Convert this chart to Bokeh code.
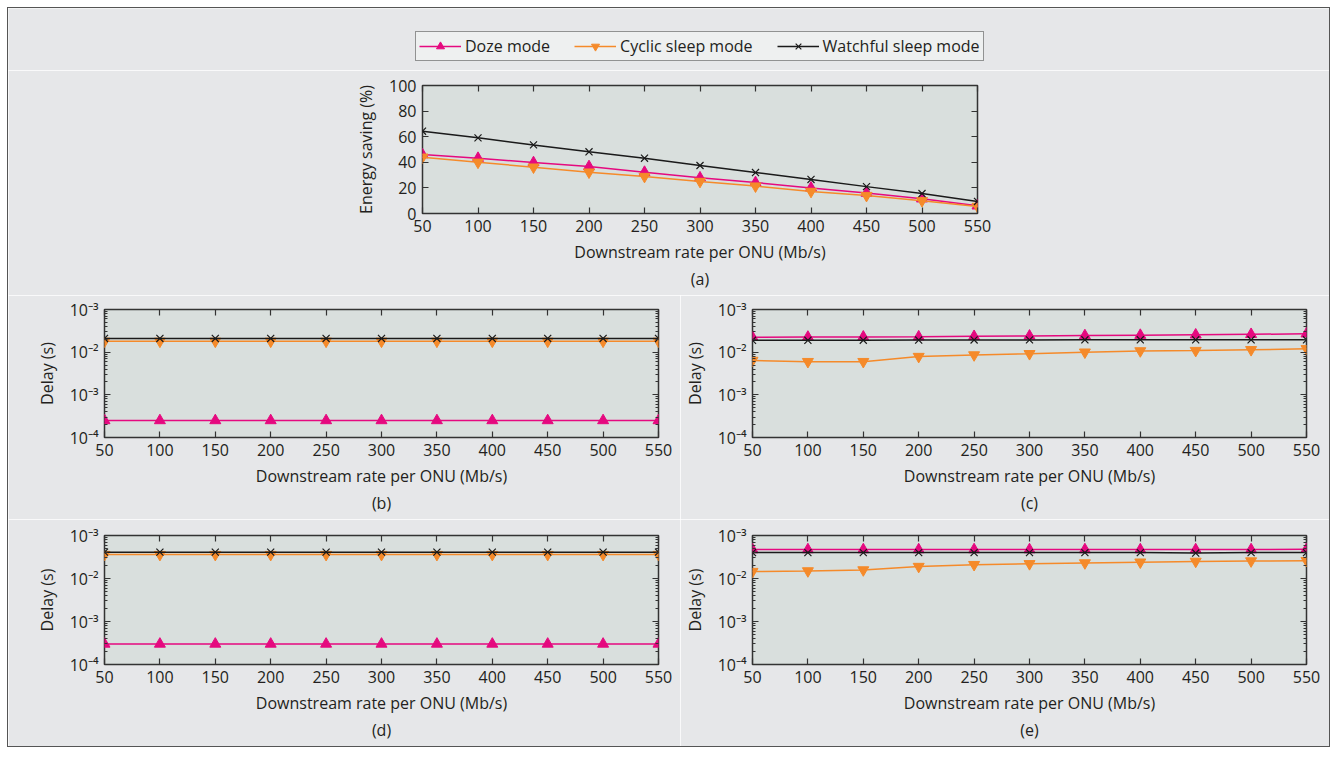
from bokeh.plotting import figure
from bokeh.models import (Range1d, LinearAxis, FixedTicker, Legend,
                          LegendItem, Title, CustomJSTickFormatter)
from bokeh.layouts import column, row
from bokeh.embed import file_html
from bokeh.resources import INLINE

# ---------------- data ----------------
rates = [50, 100, 150, 200, 250, 300, 350, 400, 450, 500, 550]
series_names = ["Doze mode", "Cyclic sleep mode", "Watchful sleep mode"]

energy_doze = [46.0, 43.2, 39.8, 36.7, 32.3, 27.9, 24.2, 20.0, 16.0, 11.5, 6.0]
energy_cyclic = [44.0, 40.0, 36.2, 32.3, 28.9, 25.0, 21.4, 17.2, 14.0, 10.0, 5.5]
energy_watchful = [64.3, 59.1, 53.6, 48.2, 43.2, 37.5, 32.0, 26.6, 21.0, 15.6, 9.4]

delay_b_doze = [2.5e-4, 2.5e-4, 2.5e-4, 2.5e-4, 2.5e-4, 2.5e-4, 2.5e-4, 2.5e-4, 2.5e-4, 2.5e-4, 2.5e-4]
delay_b_cyclic = [0.018, 0.018, 0.018, 0.018, 0.018, 0.018, 0.018, 0.018, 0.018, 0.018, 0.018]
delay_b_watchful = [0.021, 0.021, 0.021, 0.021, 0.021, 0.021, 0.021, 0.021, 0.021, 0.021, 0.021]

delay_c_doze = [0.0224, 0.0226, 0.0228, 0.023, 0.0235, 0.0240, 0.0245, 0.0250, 0.0255, 0.0262, 0.027]
delay_c_cyclic = [0.0064, 0.0060, 0.0060, 0.0079, 0.0086, 0.0092, 0.0100, 0.0107, 0.0109, 0.0114, 0.0120]
delay_c_watchful = [0.0190, 0.0190, 0.0191, 0.0192, 0.0193, 0.0194, 0.0195, 0.0195, 0.0195, 0.0195, 0.0195]

delay_d_doze = [3.0e-4, 3.0e-4, 3.0e-4, 3.0e-4, 3.0e-4, 3.0e-4, 3.0e-4, 3.0e-4, 3.0e-4, 3.0e-4, 3.0e-4]
delay_d_cyclic = [0.036, 0.036, 0.036, 0.036, 0.036, 0.036, 0.036, 0.036, 0.036, 0.036, 0.036]
delay_d_watchful = [0.041, 0.041, 0.041, 0.041, 0.041, 0.041, 0.041, 0.041, 0.041, 0.041, 0.041]

delay_e_doze = [0.047, 0.047, 0.047, 0.047, 0.047, 0.047, 0.047, 0.047, 0.047, 0.047, 0.048]
delay_e_cyclic = [0.0145, 0.0150, 0.0158, 0.0190, 0.0210, 0.0220, 0.0230, 0.0240, 0.0250, 0.0255, 0.0260]
delay_e_watchful = [0.040, 0.040, 0.040, 0.040, 0.040, 0.040, 0.040, 0.040, 0.039, 0.040, 0.040]

energy_ticks = [0, 20, 40, 60, 80, 100]
delay_tick_values = [1e-4, 1e-3, 1e-2, 1e-1]
delay_tick_labels = ["10⁻⁴", "10⁻³", "10⁻²", "10⁻³"]
captions = ["(a)", "(b)", "(c)", "(d)", "(e)"]
x_label = "Downstream rate per ONU (Mb/s)"
energy_label = "Energy saving (%)"
delay_label = "Delay (s)"

# ---------------- style ----------------
FONT = "Open Sans"
TXT = "#231f20"
FS = "16px"
BG = "#e6e7e9"
PLOT_BG = "#d9dfdd"
EDGE = "#333333"
COLORS = ["#e5097f", "#f58a2a", "#1a1a1a"]
MARKERS = ["triangle", "inverted_triangle", "x"]

minor_log = [m * 10.0 ** k for k in (-4, -3, -2) for m in range(2, 10)]
blank = CustomJSTickFormatter(code="return ''")


def style_axis(ax, labels=True, minor=False, standoff=6):
    ax.axis_line_color = None
    ax.major_tick_in = 6
    ax.major_tick_out = 0
    ax.major_tick_line_color = EDGE
    ax.major_tick_line_width = 1.2
    if minor:
        ax.minor_tick_in = 3
        ax.minor_tick_out = 0
        ax.minor_tick_line_color = EDGE
    else:
        ax.minor_tick_line_color = None
    ax.major_label_text_font = FONT
    ax.major_label_text_font_size = FS
    ax.major_label_text_color = TXT
    ax.major_label_standoff = standoff
    if not labels:
        ax.formatter = blank
        ax.major_label_standoff = 0
    ax.axis_label_text_font = FONT
    ax.axis_label_text_font_size = FS
    ax.axis_label_text_font_style = "normal"
    ax.axis_label_text_color = TXT


def make_fig(width, height, bl, br, bt, bb, log, ylabel, caption):
    kw = dict(width=width, height=height, output_backend="svg", toolbar_location=None,
              x_range=Range1d(rates[0], rates[-1]),
              min_border_left=bl, min_border_right=br, min_border_top=bt, min_border_bottom=bb,
              background_fill_color=PLOT_BG, border_fill_color=BG,
              outline_line_color=EDGE, outline_line_width=1.5)
    if log:
        p = figure(y_axis_type="log",
                   y_range=Range1d(delay_tick_values[0], delay_tick_values[-1]), **kw)
        yt = FixedTicker(ticks=delay_tick_values, minor_ticks=minor_log)
    else:
        p = figure(y_range=Range1d(energy_ticks[0], energy_ticks[-1]), **kw)
        yt = FixedTicker(ticks=energy_ticks)
    xt = FixedTicker(ticks=rates)
    p.grid.visible = False

    p.xaxis.ticker = xt
    p.yaxis.ticker = yt
    for ax in p.xaxis:
        style_axis(ax, standoff=6)
        ax.axis_label = x_label
        ax.axis_label_standoff = 6
        ax.axis_label_text_line_height = 1.0
    for ax in p.yaxis:
        style_axis(ax, minor=log, standoff=6)
        ax.axis_label = ylabel
        ax.axis_label_standoff = 9
        if log:
            ax.major_label_overrides = dict(zip(delay_tick_values, delay_tick_labels))

    top = LinearAxis(ticker=xt)
    style_axis(top, labels=False)
    p.add_layout(top, "above")
    right = LinearAxis(ticker=yt)
    style_axis(right, labels=False, minor=log)
    p.add_layout(right, "right")

    p.add_layout(Title(text=caption, align="center", text_font=FONT, text_font_size=FS,
                       text_font_style="normal", text_color=TXT, standoff=0), "below")
    return p


def add_series(p, values):
    out = []
    for vals, c, m in zip(values, COLORS, MARKERS):
        lr = p.line(rates, vals, line_color=c, line_width=1.5)
        if m == "x":
            sr = p.scatter(rates, vals, marker=m, size=10, line_color=c, line_width=1.2)
        else:
            sr = p.scatter(rates, vals, marker=m, size=11, fill_color=c, line_color=c)
        out.append([lr, sr])
    return out


# legend strip: its own canvas (its ranges keep the series out of view, only the key shows)
pl = figure(width=1321, height=62, output_backend="svg", toolbar_location=None,
            x_range=Range1d(-2, -1), y_range=Range1d(-2, -1),
            x_axis_location=None, y_axis_location=None, min_border=0,
            background_fill_color=BG, border_fill_color=BG, outline_line_color=None)
pl.grid.visible = False
key_rends = add_series(pl, [energy_doze, energy_cyclic, energy_watchful])
legend = Legend(items=[LegendItem(label=n, renderers=r) for n, r in zip(series_names, key_rends)],
                orientation="horizontal", location=(407, 9),
                label_text_font=FONT, label_text_font_size="16px", label_text_color=TXT,
                glyph_width=42, glyph_height=20, label_standoff=4, spacing=24,
                padding=3, margin=0, border_line_color=EDGE, border_line_width=1.5,
                background_fill_color="#eef0f0", background_fill_alpha=1.0)
pl.add_layout(legend, "center")

# (a)
pa = make_fig(1321, 225, 414, 352, 15, 82, False, energy_label, captions[0])
add_series(pa, [energy_doze, energy_cyclic, energy_watchful])

# (b) (c)
pb = make_fig(672, 224, 96, 22, 14, 82, True, delay_label, captions[1])
add_series(pb, [delay_b_doze, delay_b_cyclic, delay_b_watchful])
pc = make_fig(649, 224, 72, 23, 14, 82, True, delay_label, captions[2])
add_series(pc, [delay_c_doze, delay_c_cyclic, delay_c_watchful])

# (d) (e)
pd = make_fig(672, 227, 96, 22, 16, 82, True, delay_label, captions[3])
add_series(pd, [delay_d_doze, delay_d_cyclic, delay_d_watchful])
pe = make_fig(649, 227, 72, 23, 16, 82, True, delay_label, captions[4])
add_series(pe, [delay_e_doze, delay_e_cyclic, delay_e_watchful])

layout = column(row(pl), pa, row(pb, pc), row(pd, pe), margin=(8, 0, 0, 8),
                styles={"outline": "1.5px solid #555555"})

open("out.html", "w").write(file_html(layout, INLINE))
